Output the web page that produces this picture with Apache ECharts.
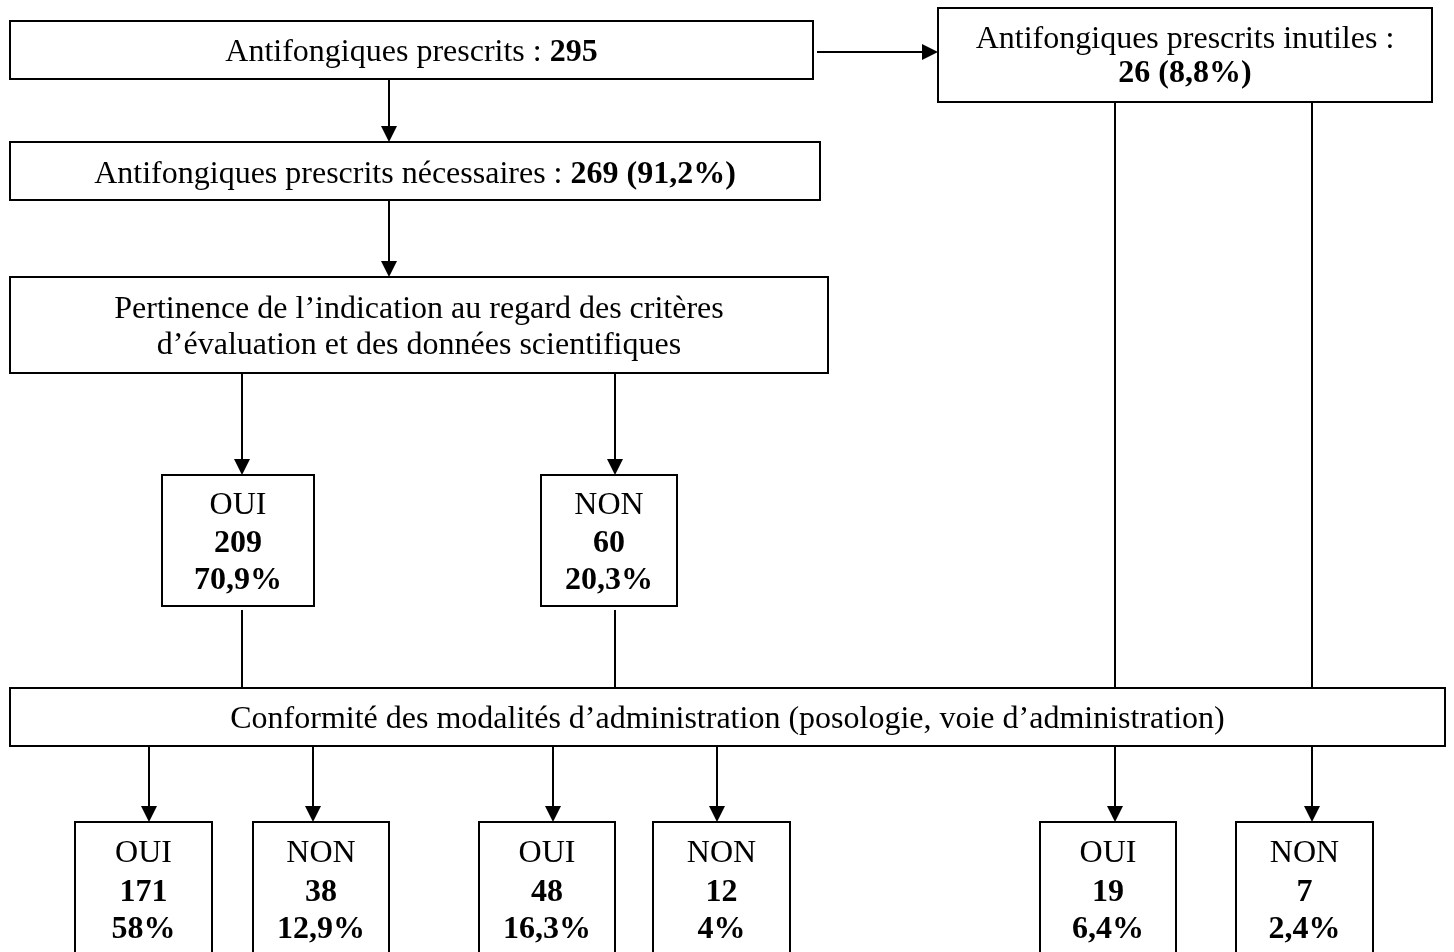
<!DOCTYPE html>
<html>
<head>
<meta charset="utf-8">
<script src="https://cdn.jsdelivr.net/npm/echarts@6/dist/echarts.min.js"></script>
<style>
  html, body { margin: 0; padding: 0; background: #fff; }
  #chart { width: 1454px; height: 952px; }
</style>
</head>
<body>
<div id="chart"></div>
<script>
// ---------- data ----------
const prescribedLabel = 'Antifongiques prescrits';
const prescribedCount = 295;
const necessaryLabel = 'Antifongiques prescrits nécessaires';
const necessaryCount = 269;
const necessaryPct = '91,2%';
const uselessLabel = 'Antifongiques prescrits inutiles';
const uselessCount = 26;
const uselessPct = '8,8%';
const relevanceLines = ['Pertinence de l’indication au regard des critères', 'd’évaluation et des données scientifiques'];
const relevanceAnswers = ['OUI', 'NON'];
const relevanceCounts = [209, 60];
const relevancePcts = ['70,9%', '20,3%'];
const conformityLabel = 'Conformité des modalités d’administration (posologie, voie d’administration)';
const conformityAnswers = ['OUI', 'NON', 'OUI', 'NON', 'OUI', 'NON'];
const conformityCounts = [171, 38, 48, 12, 19, 7];
const conformityPcts = ['58%', '12,9%', '16,3%', '4%', '6,4%', '2,4%'];

// ---------- layout (diagram coordinates) ----------
const layoutTop = { rect: [10, 21, 813, 79], lineY: [51] };
const layoutUseless = { rect: [938, 8, 1432, 102], lineY: [38, 72] };
const layoutNecessary = { rect: [10, 142, 820, 200], lineY: [173] };
const layoutRelevance = { rect: [10, 277, 828, 373], lineY: [308, 344] };
const layoutRelevanceAns = [[162, 314], [541, 677]];
const relevanceAnsY = [475, 606];
const relevanceAnsLineY = [504, 542, 579];
const layoutConformity = { rect: [10, 688, 1445, 746], lineY: [718] };
const layoutConformityAns = [[75, 212], [253, 389], [479, 615], [653, 790], [1040, 1176], [1236, 1373]];
const conformityAnsY = [822, 975];
const conformityAnsLineY = [852, 891, 928];
const conformityArrowX = [149, 313, 553, 717, 1115, 1312];
const relevanceArrowX = [242, 615];
const uselessDropX = [1115, 1312];

// ---------- build nodes ----------
const nodes = [];
nodes.push({ rect: layoutTop.rect, lines: ['{n|' + prescribedLabel + ' : }{b|' + prescribedCount + '}'], lineY: layoutTop.lineY });
nodes.push({ rect: layoutUseless.rect, lines: ['{n|' + uselessLabel + ' :}', '{b|' + uselessCount + ' (' + uselessPct + ')}'], lineY: layoutUseless.lineY });
nodes.push({ rect: layoutNecessary.rect, lines: ['{n|' + necessaryLabel + ' : }{b|' + necessaryCount + ' (' + necessaryPct + ')}'], lineY: layoutNecessary.lineY });
nodes.push({ rect: layoutRelevance.rect, lines: relevanceLines.map(t => '{n|' + t + '}'), lineY: layoutRelevance.lineY });
relevanceAnswers.forEach((a, i) => {
  nodes.push({
    rect: [layoutRelevanceAns[i][0], relevanceAnsY[0], layoutRelevanceAns[i][1], relevanceAnsY[1]],
    lines: ['{n|' + a + '}', '{b|' + relevanceCounts[i] + '}', '{b|' + relevancePcts[i] + '}'],
    lineY: relevanceAnsLineY
  });
});
nodes.push({ rect: layoutConformity.rect, lines: ['{n|' + conformityLabel + '}'], lineY: layoutConformity.lineY });
conformityAnswers.forEach((a, i) => {
  nodes.push({
    rect: [layoutConformityAns[i][0], conformityAnsY[0], layoutConformityAns[i][1], conformityAnsY[1]],
    lines: ['{n|' + a + '}', '{b|' + conformityCounts[i] + '}', '{b|' + conformityPcts[i] + '}'],
    lineY: conformityAnsLineY
  });
});

// ---------- connectors ----------
const links = [];
const xTopArrow = 389;
links.push({ pts: [[xTopArrow, layoutTop.rect[3]], [xTopArrow, layoutNecessary.rect[1]]], arrow: true });
links.push({ pts: [[817, 52], [layoutUseless.rect[0], 52]], arrow: true });
links.push({ pts: [[xTopArrow, layoutNecessary.rect[3]], [xTopArrow, layoutRelevance.rect[1]]], arrow: true });
relevanceArrowX.forEach(x => {
  links.push({ pts: [[x, layoutRelevance.rect[3]], [x, relevanceAnsY[0]]], arrow: true });
  links.push({ pts: [[x, relevanceAnsY[1] + 4], [x, layoutConformity.rect[1]]], arrow: false });
});
uselessDropX.forEach(x => {
  links.push({ pts: [[x, layoutUseless.rect[3]], [x, layoutConformity.rect[1]]], arrow: false });
});
conformityArrowX.forEach(x => {
  links.push({ pts: [[x, layoutConformity.rect[3]], [x, conformityAnsY[0]]], arrow: true });
});

const FONT = '"Liberation Serif", "Times New Roman", serif';
const FS = 32;
const TEXT_DY = 2;

const chart = echarts.init(document.getElementById('chart'), null, { renderer: 'canvas' });
chart.setOption({
  backgroundColor: '#ffffff',
  animation: false,
  grid: { left: 0, right: 0, top: 0, bottom: 0 },
  xAxis: { type: 'value', min: 0, max: 1454, show: false },
  yAxis: { type: 'value', min: 0, max: 952, inverse: true, show: false },
  series: [
    {
      type: 'custom',
      clip: false,
      silent: true,
      data: links.map((l, i) => [l.pts[0][0], l.pts[0][1], i]),
      renderItem: function (params, api) {
        const l = links[params.dataIndex];
        const p = l.pts.map(pt => api.coord(pt));
        const children = [];
        const a = p[p.length - 2], b = p[p.length - 1];
        const dx = b[0] - a[0], dy = b[1] - a[1];
        const len = Math.sqrt(dx * dx + dy * dy);
        const ux = dx / len, uy = dy / len;
        const headLen = 16, headHalf = 8;
        let end = b;
        if (l.arrow) end = [b[0] - ux * (headLen - 1), b[1] - uy * (headLen - 1)];
        const linePts = p.slice(0, -1).concat([end]);
        children.push({
          type: 'polyline',
          shape: { points: linePts },
          style: { stroke: '#000', lineWidth: 2, fill: null }
        });
        if (l.arrow) {
          const bx = b[0] - ux * headLen, by = b[1] - uy * headLen;
          children.push({
            type: 'polygon',
            shape: { points: [[b[0], b[1]], [bx - uy * headHalf, by + ux * headHalf], [bx + uy * headHalf, by - ux * headHalf]] },
            style: { fill: '#000', stroke: null }
          });
        }
        return { type: 'group', children: children };
      }
    },
    {
      type: 'custom',
      clip: false,
      silent: true,
      data: nodes.map((n, i) => [n.rect[0], n.rect[1], i]),
      renderItem: function (params, api) {
        const n = nodes[params.dataIndex];
        const p0 = api.coord([n.rect[0], n.rect[1]]);
        const p1 = api.coord([n.rect[2], n.rect[3]]);
        const cx = (p0[0] + p1[0]) / 2;
        const children = [{
          type: 'rect',
          shape: { x: p0[0], y: p0[1], width: p1[0] - p0[0], height: p1[1] - p0[1] },
          style: { fill: '#fff', stroke: '#000', lineWidth: 2 }
        }];
        n.lines.forEach((t, k) => {
          const yy = api.coord([0, n.lineY[k]])[1] + TEXT_DY;
          children.push({
            type: 'text',
            x: cx, y: yy,
            style: {
              text: t,
              align: 'center',
              verticalAlign: 'middle',
              fill: '#000',
              fontFamily: FONT,
              fontSize: FS,
              rich: {
                n: { fontFamily: FONT, fontSize: FS, fontWeight: 'normal', fill: '#000' },
                b: { fontFamily: FONT, fontSize: FS, fontWeight: 'bold', fill: '#000' }
              }
            }
          });
        });
        return { type: 'group', children: children };
      }
    }
  ]
});
</script>
</body>
</html>
